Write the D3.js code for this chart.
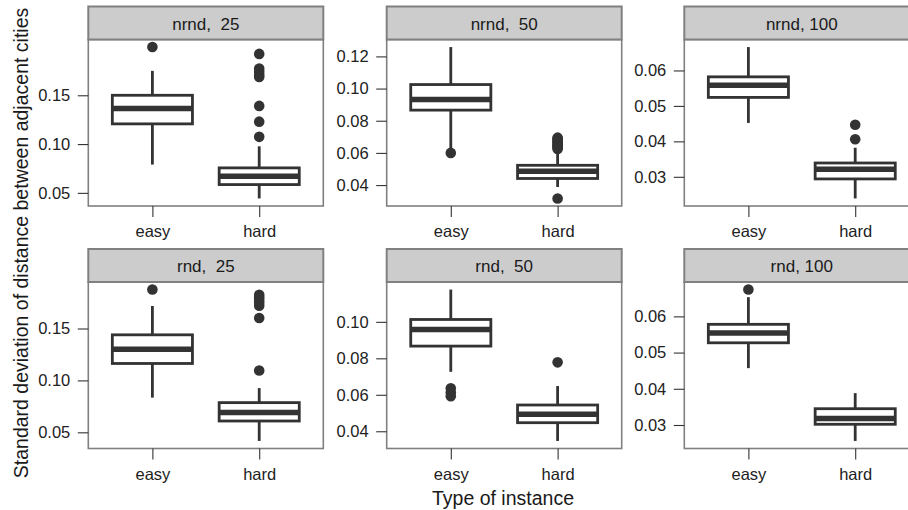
<!DOCTYPE html>
<html>
<head>
<meta charset="utf-8">
<script src="https://cdn.jsdelivr.net/npm/d3@7"></script>
<style>
  html, body { margin: 0; padding: 0; background: #ffffff; }
  svg { display: block; }
  text { font-family: "Liberation Sans", Arial, Helvetica, sans-serif; }
</style>
</head>
<body>
<svg id="chart" width="908" height="510"></svg>
<script>
// ---- data ----
const panelLabels = ["nrnd,  25", "nrnd,  50", "nrnd, 100", "rnd,  25", "rnd,  50", "rnd, 100"];
const categories = ["easy", "hard"];

// [lower whisker, Q1, median, Q3, upper whisker]
const easyStats = [
  [0.0790, 0.1207, 0.1364, 0.1500, 0.1750],
  [0.0615, 0.0866, 0.0932, 0.1025, 0.1258],
  [0.0452, 0.0524, 0.0558, 0.0582, 0.0666],
  [0.0834, 0.1163, 0.1301, 0.1439, 0.1717],
  [0.0726, 0.0867, 0.0958, 0.1013, 0.1177],
  [0.0457, 0.0527, 0.0554, 0.0578, 0.0653]
];
const hardStats = [
  [0.0443, 0.0585, 0.0670, 0.0756, 0.0977],
  [0.0388, 0.0441, 0.0486, 0.0523, 0.0620],
  [0.0239, 0.0294, 0.0321, 0.0339, 0.0382],
  [0.0417, 0.0609, 0.0690, 0.0786, 0.0926],
  [0.0347, 0.0447, 0.0493, 0.0544, 0.0648],
  [0.0256, 0.0302, 0.0318, 0.0345, 0.0388]
];
const easyOutliers = [
  [0.1994],
  [0.0600],
  [],
  [0.1875],
  [0.0636, 0.0612, 0.0592],
  [0.0674]
];
const hardOutliers = [
  [0.1924, 0.1775, 0.1740, 0.1710, 0.1688, 0.1391, 0.1230, 0.1074],
  [0.0695, 0.0688, 0.0680, 0.0672, 0.0663, 0.0655, 0.0647, 0.0640, 0.0632, 0.0625, 0.0317],
  [0.0447, 0.0406],
  [0.1825, 0.1800, 0.1775, 0.1750, 0.1720, 0.1601, 0.1096],
  [0.0778],
  []
];
const yTicks = [
  [0.05, 0.10, 0.15],
  [0.04, 0.06, 0.08, 0.10, 0.12],
  [0.03, 0.04, 0.05, 0.06],
  [0.05, 0.10, 0.15],
  [0.04, 0.06, 0.08, 0.10],
  [0.03, 0.04, 0.05, 0.06]
];
const xTitle = "Type of instance";
const yTitle = "Standard deviation of distance between adjacent cities";

// ---- layout ----
const colX = [88.3, 386.7, 684.3];
const rowY = [6.5, 249];
const panelW = 235;
const stripH = 33;
const panelH = 166.5;

const ink = "#333333";
const borderCol = "#808080";

const svg = d3.select("#chart");
svg.append("rect").attr("width", 908).attr("height", 510).attr("fill", "#ffffff");

panelLabels.forEach((label, i) => {
  const r = Math.floor(i / 3), c = i % 3;
  const left = colX[c];
  const top = rowY[r];
  const pTop = top + stripH;
  const pBottom = pTop + panelH;

  const all = easyStats[i].concat(hardStats[i], easyOutliers[i], hardOutliers[i]);
  const lo = d3.min(all), hi = d3.max(all);
  const pad = (hi - lo) * 0.05;

  const x = d3.scalePoint().domain(categories).range([left, left + panelW]).padding(0.6);
  const y = d3.scaleLinear().domain([lo - pad, hi + pad]).range([pBottom, pTop]);
  const bw = x.step() * 0.75;

  const g = svg.append("g");

  g.append("rect").attr("x", left).attr("y", pTop).attr("width", panelW).attr("height", panelH)
    .attr("fill", "#ffffff");

  const groups = [
    { cat: "easy", s: easyStats[i], out: easyOutliers[i] },
    { cat: "hard", s: hardStats[i], out: hardOutliers[i] }
  ];

  groups.forEach(d => {
    const cx = x(d.cat);
    const [wl, q1, med, q3, wu] = d.s;
    g.selectAll(null).data(d.out).enter().append("circle")
      .attr("cx", cx).attr("cy", v => y(v)).attr("r", 5.3).attr("fill", ink);
    g.append("line").attr("x1", cx).attr("x2", cx).attr("y1", y(q3)).attr("y2", y(wu))
      .attr("stroke", ink).attr("stroke-width", 2.8);
    g.append("line").attr("x1", cx).attr("x2", cx).attr("y1", y(q1)).attr("y2", y(wl))
      .attr("stroke", ink).attr("stroke-width", 2.8);
    g.append("rect").attr("x", cx - bw / 2).attr("width", bw)
      .attr("y", y(q3)).attr("height", y(q1) - y(q3))
      .attr("fill", "#ffffff").attr("stroke", ink).attr("stroke-width", 2.8);
    g.append("line").attr("x1", cx - bw / 2).attr("x2", cx + bw / 2)
      .attr("y1", y(med)).attr("y2", y(med))
      .attr("stroke", ink).attr("stroke-width", 5.5);
  });

  g.append("rect").attr("x", left).attr("y", pTop).attr("width", panelW).attr("height", panelH)
    .attr("fill", "none").attr("stroke", borderCol).attr("stroke-width", 1.6);

  g.append("rect").attr("x", left).attr("y", top).attr("width", panelW).attr("height", stripH)
    .attr("fill", "#cccccc").attr("stroke", borderCol).attr("stroke-width", 2);
  g.append("text").attr("x", left + panelW / 2).attr("y", top + stripH / 2 + 1)
    .attr("text-anchor", "middle").attr("dominant-baseline", "central")
    .style("white-space", "pre").attr("xml:space", "preserve")
    .attr("font-size", "17px").attr("fill", "#1a1a1a").text(label);

  const ya = svg.append("g").attr("transform", `translate(${left},0)`)
    .call(d3.axisLeft(y).tickValues(yTicks[i]).tickFormat(d3.format(".2f"))
      .tickSize(10.5).tickPadding(7.5));
  ya.select(".domain").remove();
  ya.selectAll(".tick line").attr("stroke", ink).attr("stroke-width", 1.1);
  ya.selectAll(".tick text").attr("font-size", "16.5px").attr("fill", "#222")
    .attr("font-family", "\"Liberation Sans\", Arial, Helvetica, sans-serif");

  const xa = svg.append("g").attr("transform", `translate(0,${pBottom})`)
    .call(d3.axisBottom(x).tickSize(11).tickPadding(8.5));
  xa.select(".domain").remove();
  xa.selectAll(".tick line").attr("stroke", ink).attr("stroke-width", 1.1);
  xa.selectAll(".tick text").attr("font-size", "16.5px").attr("fill", "#222")
    .attr("font-family", "\"Liberation Sans\", Arial, Helvetica, sans-serif");
});

svg.append("text").attr("x", 503).attr("y", 505).attr("text-anchor", "middle")
  .attr("font-size", "19.5px").attr("fill", "#1a1a1a").text(xTitle);
svg.append("text").attr("transform", "translate(28,243) rotate(-90)")
  .attr("text-anchor", "middle").attr("font-size", "19.5px").attr("fill", "#1a1a1a").text(yTitle);
</script>
</body>
</html>
